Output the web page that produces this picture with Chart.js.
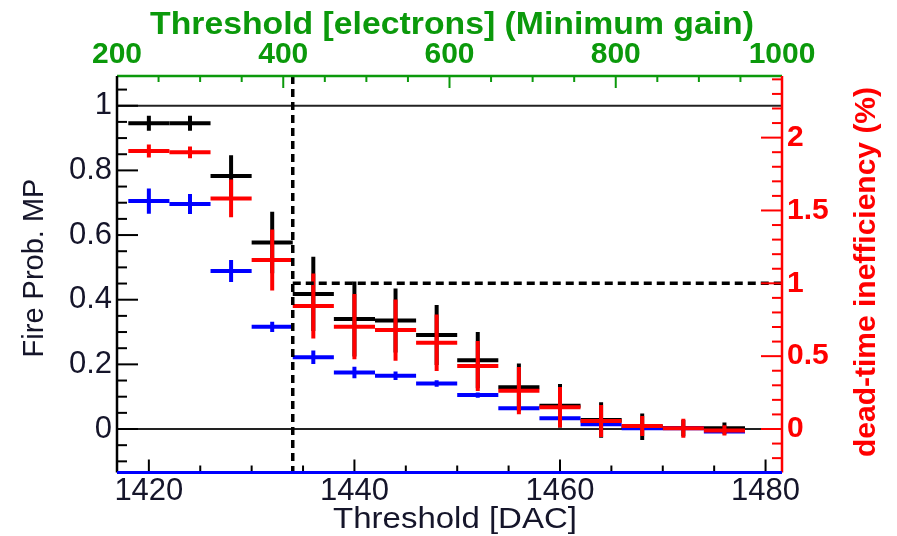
<!DOCTYPE html>
<html>
<head>
<meta charset="utf-8">
<script src="https://cdn.jsdelivr.net/npm/chart.js@4.4.1/dist/chart.umd.min.js"></script>
<style>
html,body{margin:0;padding:0;background:#fff;}
#wrap{width:897px;height:536px;position:relative;}
canvas{display:block;}
</style>
</head>
<body>
<div id="wrap"><canvas id="c" width="897" height="536"></canvas></div>
<script>
// ---- data ----
const bins = [1420,1424,1428,1432,1436,1440,1444,1448,1452,1456,1460,1464,1468,1472,1476];
const binHalfWidth = 2;

// black: fire probability (left axis)
const blackVals = [0.946,0.946,0.783,0.577,0.418,0.340,0.336,0.291,0.213,0.129,0.072,0.028,0.007,0.003,0.002];
const blackErr  = [0.023,0.023,0.064,0.095,0.115,0.116,0.099,0.093,0.087,0.074,0.067,0.055,0.041,0.025,0.018];

// blue: fire probability (left axis)
const blueVals = [0.705,0.696,0.489,0.316,0.222,0.175,0.165,0.141,0.105,0.064,0.033,0.015,0.002,0.002,-0.008];
const blueErr  = [0.039,0.031,0.034,0.016,0.021,0.018,0.013,0.010,0.008,0.006,0.005,0.004,0.003,0.003,0.003];

// red: dead-time inefficiency in % (right axis)
const redVals = [1.908,1.899,1.583,1.160,0.844,0.702,0.679,0.592,0.432,0.263,0.149,0.055,0.021,0.005,-0.010];
const redErr  = [0.045,0.040,0.130,0.210,0.223,0.224,0.210,0.194,0.172,0.162,0.139,0.110,0.069,0.065,0.035];

// tick labels
const xTicks  = [1420,1440,1460,1480];
const x2Ticks = [200,400,600,800,1000];
const yTicks  = [0,0.2,0.4,0.6,0.8,1];
const y2Ticks = [0,0.5,1,1.5,2];

// reference lines
const cutDAC = 1434;          // vertical dashed line
const deadTimeLimit = 1;      // horizontal dashed line on right axis
const probRefLines = [0,1];   // thin solid lines on left axis

const FONT = '"Liberation Sans", Arial, Helvetica, sans-serif';
const GREEN = '#0b990b';
const RED = '#ff0000';
const BLUE = '#0000ff';
const TXT = '#15152a';

function pts(vals, errs){ return bins.map((b,i)=>({x:b, y:vals[i], e:errs[i]})); }

function stretchedText(ctx, text, cx, by, sx){
  ctx.save(); ctx.translate(cx, by); ctx.scale(sx, 1);
  ctx.textAlign = 'center'; ctx.textBaseline = 'alphabetic';
  ctx.fillText(text, 0, 0); ctx.restore();
}

const errorBars = {
  id:'errorBars',
  beforeDatasetsDraw(chart){
    const {ctx, chartArea:a} = chart;
    const ys = chart.scales.y;
    ctx.save();
    ctx.strokeStyle = '#222'; ctx.lineWidth = 2;
    probRefLines.forEach(v=>{
      const p = ys.getPixelForValue(v);
      ctx.beginPath(); ctx.moveTo(a.left,p); ctx.lineTo(a.right,p); ctx.stroke();
    });
    ctx.restore();
  },
  afterDatasetsDraw(chart){
    const {ctx, chartArea:a} = chart;
    ctx.save();
    ctx.beginPath(); ctx.rect(a.left,a.top,a.right-a.left,a.bottom-a.top); ctx.clip();
    chart.data.datasets.forEach(ds=>{
      const xs = chart.scales[ds.xAxisID], ys = chart.scales[ds.yAxisID];
      ctx.strokeStyle = ds.borderColor; ctx.lineWidth = 4; ctx.lineCap = 'butt';
      ds.data.forEach(p=>{
        const x0 = xs.getPixelForValue(p.x-binHalfWidth), x1 = xs.getPixelForValue(p.x+binHalfWidth);
        const xc = xs.getPixelForValue(p.x);
        const yc = ys.getPixelForValue(p.y);
        const yt = ys.getPixelForValue(p.y+p.e), yb = ys.getPixelForValue(p.y-p.e);
        ctx.beginPath();
        ctx.moveTo(x0,yc); ctx.lineTo(x1,yc);
        ctx.moveTo(xc,yt); ctx.lineTo(xc,yb);
        ctx.stroke();
      });
    });
    // dashed reference lines
    const xs = chart.scales.x, y2 = chart.scales.y2;
    const xc = xs.getPixelForValue(cutDAC);
    const yl = y2.getPixelForValue(deadTimeLimit);
    ctx.strokeStyle = '#000'; ctx.lineWidth = 3.5; ctx.setLineDash([8,5]);
    ctx.beginPath(); ctx.moveTo(xc,a.top); ctx.lineTo(xc,a.bottom); ctx.stroke();
    ctx.beginPath(); ctx.moveTo(xc,yl); ctx.lineTo(a.right,yl); ctx.stroke();
    ctx.restore();
  },
  afterDraw(chart){
    const {ctx, chartArea:a} = chart;
    const s = chart.scales;
    ctx.save();
    function ticksH(scale, step, majorEvery, yBase, dir, majLen, minLen, color){
      ctx.strokeStyle = color; ctx.lineWidth = 2;
      const start = Math.ceil(scale.min/step-1e-9);
      for(let k=start; k*step<=scale.max+1e-9; k++){
        const v = k*step, p = scale.getPixelForValue(v);
        const isMaj = Math.abs(v/majorEvery - Math.round(v/majorEvery))<1e-6;
        const L = isMaj?majLen:minLen;
        ctx.beginPath(); ctx.moveTo(p,yBase); ctx.lineTo(p,yBase+dir*L); ctx.stroke();
      }
    }
    function ticksV(scale, step, majorEvery, xBase, dir, majLen, minLen, color){
      ctx.strokeStyle = color; ctx.lineWidth = 2;
      const start = Math.ceil(scale.min/step-1e-9);
      for(let k=start; k*step<=scale.max+1e-9; k++){
        const v = k*step, p = scale.getPixelForValue(v);
        const isMaj = Math.abs(v/majorEvery - Math.round(v/majorEvery))<1e-6;
        const L = isMaj?majLen:minLen;
        ctx.beginPath(); ctx.moveTo(xBase,p); ctx.lineTo(xBase+dir*L,p); ctx.stroke();
      }
    }
    ticksH(s.x, 5, 20, a.bottom, -1, 13, 7, '#000');
    ticksH(s.x2, 50, 200, a.top, 1, 12, 6, GREEN);
    ticksV(s.y, 0.05, 0.2, a.left, 1, 21, 10, '#000');
    ticksV(s.y2, 0.1, 0.5, a.right, -1, 21, 10, RED);
    // axis lines
    ctx.lineWidth = 2.5;
    ctx.strokeStyle = GREEN; ctx.beginPath(); ctx.moveTo(a.left,a.top); ctx.lineTo(a.right,a.top); ctx.stroke();
    ctx.strokeStyle = '#000'; ctx.beginPath(); ctx.moveTo(a.left,a.top); ctx.lineTo(a.left,a.bottom); ctx.stroke();
    ctx.strokeStyle = RED; ctx.beginPath(); ctx.moveTo(a.right,a.top); ctx.lineTo(a.right,a.bottom); ctx.stroke();
    ctx.strokeStyle = BLUE; ctx.lineWidth = 3; ctx.beginPath(); ctx.moveTo(a.left,a.bottom); ctx.lineTo(a.right,a.bottom); ctx.stroke();
    // titles
    ctx.fillStyle = GREEN; ctx.font = 'bold 32px '+FONT;
    stretchedText(ctx, 'Threshold [electrons] (Minimum gain)', 452, 34, 1.055);
    ctx.fillStyle = TXT; ctx.font = '30px '+FONT;
    stretchedText(ctx, 'Threshold [DAC]', 455, 528, 1.1);
    ctx.save(); ctx.translate(43,268); ctx.rotate(-Math.PI/2);
    ctx.textAlign = 'center'; ctx.textBaseline = 'alphabetic';
    ctx.font = '29px '+FONT; ctx.fillText('Fire Prob. MP', 0, 0); ctx.restore();
    ctx.save(); ctx.translate(875,272); ctx.rotate(-Math.PI/2);
    ctx.textAlign = 'center'; ctx.textBaseline = 'alphabetic';
    ctx.fillStyle = RED; ctx.font = 'bold 30px '+FONT; ctx.fillText('dead-time inefficiency (%)', 0, 0); ctx.restore();
    ctx.restore();
  }
};

function fixedTicks(list){ return (scale)=>{ scale.ticks = list.map(v=>({value:v})); }; }

new Chart(document.getElementById('c'), {
  type:'scatter',
  data:{
    datasets:[
      {label:'black', data:pts(blackVals,blackErr), borderColor:'#000', backgroundColor:'#000', xAxisID:'x', yAxisID:'y', pointRadius:0, showLine:false},
      {label:'blue',  data:pts(blueVals,blueErr),   borderColor:BLUE,  backgroundColor:BLUE,  xAxisID:'x', yAxisID:'y', pointRadius:0, showLine:false},
      {label:'red',   data:pts(redVals,redErr),     borderColor:RED,   backgroundColor:RED,   xAxisID:'x', yAxisID:'y2', pointRadius:0, showLine:false}
    ]
  },
  options:{
    responsive:false, animation:false, devicePixelRatio:1,
    layout:{padding:0},
    plugins:{legend:{display:false}, tooltip:{enabled:false}},
    scales:{
      x:{type:'linear', position:'bottom', min:1416.9, max:1481.6,
         afterBuildTicks:fixedTicks(xTicks), afterFit:(s)=>{s.height=63.5;},
         grid:{display:false, drawTicks:false}, border:{display:false},
         ticks:{font:{family:FONT,size:31}, color:TXT, padding:0, maxRotation:0, autoSkip:false, callback:(v)=>String(v)}},
      x2:{type:'linear', position:'top', min:200, max:1000,
         afterBuildTicks:fixedTicks(x2Ticks), afterFit:(s)=>{s.height=76;},
         grid:{display:false, drawTicks:false}, border:{display:false},
         ticks:{font:{family:FONT,size:30,weight:'bold'}, color:GREEN, padding:3, maxRotation:0, autoSkip:false, callback:(v)=>String(v)}},
      y:{type:'linear', position:'left', min:-0.1345, max:1.092,
         afterBuildTicks:fixedTicks(yTicks), afterFit:(s)=>{s.width=117;},
         grid:{display:false, drawTicks:false}, border:{display:false},
         ticks:{font:{family:FONT,size:31}, color:TXT, padding:5, autoSkip:false, callback:(v)=>String(Math.round(v*10)/10)}},
      y2:{type:'linear', position:'right', min:-0.2986, max:2.423,
         afterBuildTicks:fixedTicks(y2Ticks), afterFit:(s)=>{s.width=115;},
         grid:{display:false, drawTicks:false}, border:{display:false},
         ticks:{font:{family:FONT,size:30,weight:'bold'}, color:RED, padding:5, autoSkip:false, callback:(v)=>String(Math.round(v*10)/10)}}
    }
  },
  plugins:[errorBars]
});
</script>
</body>
</html>
